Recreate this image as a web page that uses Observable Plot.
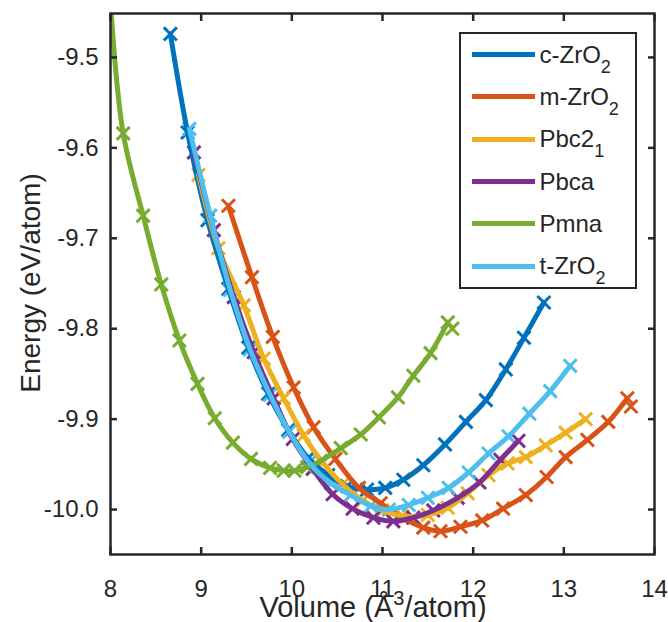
<!DOCTYPE html>
<html>
<head>
<meta charset="utf-8">
<script src="https://cdn.jsdelivr.net/npm/d3@7"></script>
<script src="https://cdn.jsdelivr.net/npm/@observablehq/plot@0.6"></script>
<style>
  body { margin: 0; background: #fff; }
  #fig { position: relative; width: 668px; height: 622px; font-family: "Liberation Sans", Arial, Helvetica, sans-serif; color: #262626; }
  #fig svg { display: block; }
  .lbl { position: absolute; white-space: nowrap; }
  #xtitle { font-size: 29px; line-height: 29px; }
  #ytitle { font-size: 28px; line-height: 28px; }
  .sup { position: relative; font-size: 20px; top: -12px; }
  .sub { position: relative; font-size: 18px; top: 10px; }
  #legend { position: absolute; left: 459px; top: 32px; width: 178px; height: 257px; box-sizing: border-box;
            border: 2.5px solid #262626; background: #fff; }
  .row { position: absolute; left: 0; width: 100%; height: 0; }
  .swatch { position: absolute; left: 10.5px; width: 63px; height: 5px; top: -2.5px; }
  .name { position: absolute; left: 78.5px; top: -11.7px; font-size: 24px; line-height: 24px; white-space: nowrap; }
</style>
</head>
<body>
<div id="fig"></div>
<script>
// Energy–volume curves of ZrO2 polymorphs: [volume (Å^3/atom), energy (eV/atom)]
const cZrO2 = [[8.66,-9.474],[8.85,-9.583],[9.07,-9.680],[9.30,-9.756],[9.52,-9.821],[9.74,-9.872],[9.96,-9.912],
  [10.18,-9.943],[10.40,-9.962],[10.61,-9.974],[10.83,-9.978],[11.03,-9.976],[11.23,-9.967],[11.45,-9.951],
  [11.69,-9.928],[11.92,-9.903],[12.14,-9.879],[12.36,-9.845],[12.56,-9.810],[12.78,-9.771]];
const mZrO2 = [[9.30,-9.664],[9.56,-9.743],[9.79,-9.809],[10.02,-9.865],[10.24,-9.909],[10.48,-9.944],[10.74,-9.976],
  [10.98,-9.993],[11.22,-10.009],[11.45,-10.020],[11.64,-10.024],[11.86,-10.019],[12.10,-10.012],[12.33,-9.999],
  [12.58,-9.984],[12.81,-9.964],[13.02,-9.942],[13.26,-9.923],[13.49,-9.903],[13.70,-9.877]];
const pbc21 = [[8.97,-9.630],[9.19,-9.711],[9.47,-9.774],[9.69,-9.833],[9.91,-9.877],[10.13,-9.918],[10.34,-9.948],
  [10.56,-9.972],[10.78,-9.990],[11.00,-10.001],[11.22,-10.007],[11.50,-10.006],[11.72,-9.998],[11.94,-9.982],
  [12.17,-9.962],[12.38,-9.949],[12.58,-9.942],[12.80,-9.929],[13.02,-9.915],[13.24,-9.900]];
const pbca = [[8.92,-9.605],[9.14,-9.691],[9.36,-9.765],[9.58,-9.826],[9.80,-9.877],[10.01,-9.922],[10.23,-9.955],
  [10.45,-9.983],[10.67,-9.999],[10.90,-10.009],[11.12,-10.013],[11.34,-10.009],[11.56,-10.001],[11.83,-9.987],
  [12.07,-9.970],[12.30,-9.945],[12.50,-9.924]];
const pmna = [[8.00,-9.440],[8.14,-9.584],[8.36,-9.675],[8.56,-9.751],[8.76,-9.813],[8.96,-9.861],[9.15,-9.899],
  [9.35,-9.926],[9.55,-9.944],[9.76,-9.954],[9.91,-9.957],[10.03,-9.957],[10.17,-9.953],[10.32,-9.946],
  [10.54,-9.932],[10.76,-9.917],[10.96,-9.898],[11.17,-9.876],[11.34,-9.852],[11.53,-9.827],[11.72,-9.793]];
const tZrO2 = [[8.87,-9.579],[9.10,-9.675],[9.32,-9.757],[9.54,-9.823],[9.76,-9.873],[9.97,-9.914],[10.19,-9.948],
  [10.43,-9.971],[10.65,-9.984],[10.87,-9.996],[11.07,-10.000],[11.29,-9.995],[11.50,-9.987],[11.73,-9.976],
  [11.95,-9.959],[12.17,-9.938],[12.39,-9.919],[12.62,-9.894],[12.85,-9.869],[13.07,-9.841]];
// sampled points that sit off the end of their curves
const extraM = [[13.74,-9.886]];
const extraPmna = [[11.77,-9.800]];

const names = ["c-ZrO_2", "m-ZrO_2", "Pbc2_1", "Pbca", "Pmna", "t-ZrO_2"];
const colors = ["#0072BD", "#D95319", "#EDB120", "#7E2F8E", "#77AC30", "#4DBEEE"];
const curves = [cZrO2, mZrO2, pbc21, pbca, pmna, tZrO2];
const extras = [[], extraM, [], [], extraPmna, []];

const xTicks = [8, 9, 10, 11, 12, 13, 14];
const yTicks = [-10.0, -9.9, -9.8, -9.7, -9.6, -9.5];

const ink = "#262626";
const X = d => d[0], Y = d => d[1];

const markerMarks = curves.map((pts, i) =>
  Plot.dot(pts.concat(extras[i]), {x: X, y: Y, symbol: "times", r: 6, stroke: colors[i], strokeWidth: 3, clip: true}));
const lineMarks = curves.map((pts, i) =>
  Plot.line(pts, {x: X, y: Y, stroke: colors[i], strokeWidth: 5, curve: "catmull-rom", clip: true}));

const chart = Plot.plot({
  width: 668, height: 622,
  marginLeft: 110, marginRight: 14, marginTop: 13, marginBottom: 68,
  x: {domain: [8, 14]},
  y: {domain: [-10.0497, -9.4514]},
  style: {fontFamily: "'Liberation Sans', Arial, Helvetica, sans-serif", fontSize: "24px", color: ink, background: "#fff"},
  marks: [
    ...markerMarks,
    ...lineMarks,
    Plot.frame({stroke: ink, strokeWidth: 2.5}),
    Plot.axisX({ticks: xTicks, tickSize: -7, tickPadding: 32, tickFormat: d => String(d), label: null, strokeWidth: 2.5}),
    Plot.axisX({anchor: "top", ticks: xTicks, tickSize: -7, tickFormat: () => "", label: null, strokeWidth: 2.5}),
    Plot.axisY({ticks: yTicks, tickSize: -7, tickPadding: 19, tickFormat: d => d.toFixed(1), label: null, strokeWidth: 2.5}),
    Plot.axisY({anchor: "right", ticks: yTicks, tickSize: -7, tickFormat: () => "", label: null, strokeWidth: 2.5})
  ]
});

const fig = document.getElementById("fig");
fig.appendChild(chart);

// axis titles
const xt = document.createElement("div");
xt.className = "lbl"; xt.id = "xtitle";
xt.style.left = "173px"; xt.style.width = "400px"; xt.style.textAlign = "center"; xt.style.top = "593px";
xt.innerHTML = 'Volume (Å<span class="sup">3</span>/atom)';
fig.appendChild(xt);

const yt = document.createElement("div");
yt.className = "lbl"; yt.id = "ytitle";
yt.style.left = "31.3px"; yt.style.top = "282.5px";
yt.style.transform = "translate(-50%, -50%) rotate(-90deg)";
yt.textContent = "Energy (eV/atom)";
fig.appendChild(yt);

// legend
const fmt = s => s.replace(/_(\w)/g, '<span class="sub">$1</span>');
const leg = document.createElement("div");
leg.id = "legend";
names.forEach((n, i) => {
  const row = document.createElement("div");
  row.className = "row";
  row.style.top = (20.5 + i * 42.3) + "px";
  row.innerHTML = `<div class="swatch" style="background:${colors[i]}"></div><div class="name">${fmt(n)}</div>`;
  leg.appendChild(row);
});
fig.appendChild(leg);
</script>
</body>
</html>
